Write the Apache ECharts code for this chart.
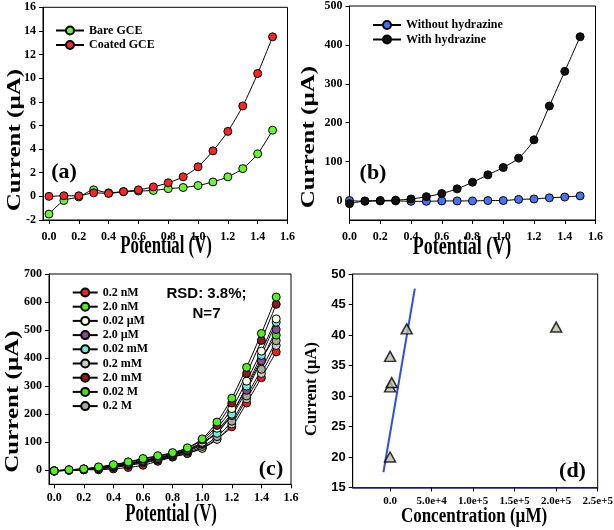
<!DOCTYPE html>
<html>
<head>
<meta charset="utf-8">
<script src="https://cdn.jsdelivr.net/npm/echarts@6/dist/echarts.min.js"></script>
<style>html,body{margin:0;padding:0;background:#fff}#c{width:614px;height:530px}</style>
</head>
<body>
<div id="c"></div>
<script>
// ---------- data ----------
const potential = [0.0,0.1,0.2,0.3,0.4,0.5,0.6,0.7,0.8,0.9,1.0,1.1,1.2,1.3,1.4,1.5];
const potentialTicks = [0.0,0.2,0.4,0.6,0.8,1.0,1.2,1.4,1.6];

// (a)
const bareGCE   = [-1.5,-0.35,-0.05,0.55,0.3,0.4,0.45,0.5,0.65,0.75,0.92,1.22,1.65,2.35,3.6,5.6];
const coatedGCE = [0.0,0.05,0.05,0.3,0.25,0.4,0.55,0.8,1.15,1.65,2.5,3.85,5.5,7.65,10.4,13.5];
const aYTicks = [-2,0,2,4,6,8,10,12,14,16];

// (b)
const withoutHydrazine = [0,-2,-1,-1,-2,-2,-1,-1,-1,0,0,3,4,7,9,12];
const withHydrazine    = [-8,-1,0,1,4,10,18,30,47,66,85,109,156,243,332,421];
const bYTicks = [0,100,200,300,400,500];

// (c)
const cNames = ['0.2 nM','2.0 nM','0.02 \u00b5M','2.0 \u00b5M','0.02 mM','0.2 mM','2.0 mM','0.02 M','0.2 M'];
const c_02nM  = [-3,0,2,2,5,10,18,32,47,60,80,112,155,240,330,422];
const c_20nM  = [-2,2,5,12,20,30,42,52,63,80,112,172,257,367,488,618];
const c_002uM = [-2,1,4,9,16,25,36,46,58,74,100,150,220,318,425,540];
const c_20uM  = [-2,1,3,8,14,22,32,42,54,70,95,138,195,285,390,502];
const c_002mM = [-2,1,4,9,15,24,34,44,56,72,98,132,200,300,410,528];
const c_02mM  = [-3,0,2,5,10,17,26,36,48,60,78,110,165,255,345,445];
const c_20mM  = [-2,2,5,11,19,29,40,50,61,78,108,160,240,345,463,592];
const c_002M  = [-2,1,3,8,14,22,32,42,53,68,92,140,205,295,395,482];
const c_02M   = [-3,0,2,6,11,19,29,38,50,64,85,120,175,265,360,462];
const cYTicks = [0,100,200,300,400,500,600,700];

// (d)
const concentration = [0.0002,0.02,2,2000,20000,200000];
const dCurrent      = [20,31.5,36.5,32.2,41,41.3];
const fitX = [-8000,29800];
const fitY = [17.5,47.6];
const dXTicks = [0,50000,100000,150000,200000,250000];
const dYTicks = [15,20,25,30,35,40,45,50];

// ---------- styles ----------
const SERIF = '"Liberation Serif","Times New Roman",serif';
const SANS = '"Liberation Sans",Arial,sans-serif';
const pair = (xs, ys) => xs.map((x,i)=>[x, ys[i]]);

function xAx(gi, min, max, ticks, fmt, fs, margin) {
  return {
    type:'value', gridIndex:gi, min:min, max:max,
    axisLine:{show:true,onZero:false,lineStyle:{color:'#000',width:1}},
    axisTick:{show:true,inside:false,length:4,customValues:ticks,lineStyle:{color:'#000'}},
    axisLabel:{show:true,customValues:ticks,formatter:fmt,color:'#000',fontFamily:SERIF,fontWeight:'bold',fontSize:fs||12,margin:margin||8},
    splitLine:{show:false}
  };
}
function yAx(gi, min, max, ticks, family, fs) {
  return {
    type:'value', gridIndex:gi, min:min, max:max,
    axisLine:{show:true,onZero:false,lineStyle:{color:'#000',width:1}},
    axisTick:{show:true,inside:false,length:4,customValues:ticks,lineStyle:{color:'#000'}},
    axisLabel:{show:true,customValues:ticks,color:'#000',fontFamily:family||SERIF,fontWeight:'bold',fontSize:fs||12,margin:7},
    splitLine:{show:false}
  };
}
const f1 = v => v.toFixed(1);
const fSci = v => {
  if (v === 0) return '0.0';
  const e = Math.floor(Math.log10(v) + 1e-9);
  return (v/Math.pow(10,e)).toFixed(1) + 'e+' + e;
};

function lineSeries(name, xi, data, color, z) {
  return {
    type:'line', name:name, xAxisIndex:xi, yAxisIndex:xi, data:data,
    smooth:0.25, symbol:'circle', symbolSize:8, showSymbol:true,
    lineStyle:{color:'#000',width:1},
    itemStyle:{color:color,borderColor:'#000',borderWidth:1},
    z: z||2, animation:false
  };
}

const series = [
  lineSeries('Bare GCE',0,pair(potential,bareGCE),'#6cf03a'),
  lineSeries('Coated GCE',0,pair(potential,coatedGCE),'#f02828'),
  lineSeries('Without hydrazine',1,pair(potential,withoutHydrazine),'#4a72ee'),
  lineSeries('With hydrazine',1,pair(potential,withHydrazine),'#111111'),
];
const cColors = ['#f02020','#55ee22','#fbfbe6','#8a4a8e','#70ecdc','#c9cbc0','#8e1a1a','#44dd22','#a6ac9c'];
const cData = [c_02nM,c_20nM,c_002uM,c_20uM,c_002mM,c_02mM,c_20mM,c_002M,c_02M];
const cOrder = [0,5,8,7,3,4,2,6,1];
cOrder.forEach(i => {
  series.push(lineSeries(cNames[i],2,pair(potential,cData[i]),cColors[i]));
});
series.push({
  type:'line', name:'fit', xAxisIndex:3, yAxisIndex:3, data:pair(fitX,fitY),
  symbol:'none', lineStyle:{color:'#2f4fe0',width:2}, animation:false
});
series.push({
  type:'scatter', name:'points', xAxisIndex:3, yAxisIndex:3, data:pair(concentration,dCurrent),
  symbol:'triangle', symbolSize:[11,10],
  itemStyle:{color:'#b9bdab',borderColor:'#000',borderWidth:1.5}, animation:false, z:3
});

const legendBase = {
  orient:'vertical', padding:0, itemWidth:28, itemHeight:10, itemGap:0.5,
  textStyle:{fontFamily:SERIF,fontWeight:'bold',fontSize:12,color:'#000',lineHeight:14},
  selectedMode:false
};

function gText(text, x, y, opt) {
  return Object.assign({
    type:'text', x:x, y:y,
    style:{text:text, fontFamily:opt.family||SERIF, fontWeight:'bold', fontSize:opt.fs,
      fill:'#000', textAlign:'center', textVerticalAlign:'middle'}
  }, opt.rot ? {rotation:Math.PI/2} : {}, opt.sx ? {scaleX:opt.sx} : {}, opt.sy ? {scaleY:opt.sy} : {});
}

const option = {
  animation:false,
  backgroundColor:'#fff',
  grid:[
    {left:43,top:7.3,width:244.5,height:212.7,show:true,borderColor:'#000',borderWidth:1,containLabel:false,outerBoundsMode:'none'},
    {left:349.5,top:6,width:246,height:214,show:true,borderColor:'#000',borderWidth:1,containLabel:false,outerBoundsMode:'none'},
    {left:49,top:274,width:242,height:210.3,show:true,borderColor:'#000',borderWidth:1,containLabel:false,outerBoundsMode:'none'},
    {left:352.7,top:274,width:245,height:213.5,show:true,borderColor:'#000',borderWidth:1,containLabel:false,outerBoundsMode:'none'}
  ],
  xAxis:[
    xAx(0,-0.04,1.6,potentialTicks,f1,12,11),
    xAx(1,0,1.6,potentialTicks,f1,12,11),
    xAx(2,-0.035,1.6,potentialTicks,f1,12,8),
    Object.assign(xAx(3,-45000,250000,dXTicks,fSci,11,8),{axisLine:{show:true,onZero:false,lineStyle:{color:'#1c2470',width:1.5}}})
  ],
  yAxis:[
    yAx(0,-2,16,aYTicks),
    yAx(1,-50,500,bYTicks),
    yAx(2,-50,700,cYTicks),
    yAx(3,15,50,dYTicks,SANS,13)
  ],
  legend:[
    Object.assign({},legendBase,{left:55,top:23.5,data:['Bare GCE','Coated GCE']}),
    Object.assign({},legendBase,{left:372,top:18,data:['Without hydrazine','With hydrazine']}),
    Object.assign({},legendBase,{left:71.7,top:285.5,itemWidth:25,itemGap:0.2,data:cNames})
  ],
  graphic:[
    gText('Potential (V)',166,247,{fs:25,sx:0.67}),
    gText('Current (\u00b5A)',15.5,140,{fs:25,rot:true,sy:0.72}),
    gText('(a)',64,172.5,{fs:22}),
    gText('Potential (V)',462,248,{fs:25,sx:0.72}),
    gText('Current (\u00b5A)',309,137,{fs:25,rot:true,sy:0.72}),
    gText('(b)',373,173.5,{fs:22}),
    gText('Potential (V)',171,515,{fs:25,sx:0.67}),
    gText('Current (\u00b5A)',13.5,401.5,{fs:25,rot:true,sy:0.72}),
    gText('(c)',271,469.5,{fs:22}),
    gText('RSD: 3.8%;',206.5,293.5,{fs:15,family:SANS}),
    gText('N=7',206.5,313.5,{fs:15,family:SANS}),
    gText('Concentration (\u00b5M)',474,517,{fs:20,sx:0.85}),
    gText('Current (\u00b5A)',311.5,389,{fs:16.5,rot:true}),
    gText('(d)',572.5,471.5,{fs:22})
  ],
  series:series
};
const chart = echarts.init(document.getElementById('c'), null, {renderer:'canvas'});
chart.setOption(option);
</script>
</body>
</html>
